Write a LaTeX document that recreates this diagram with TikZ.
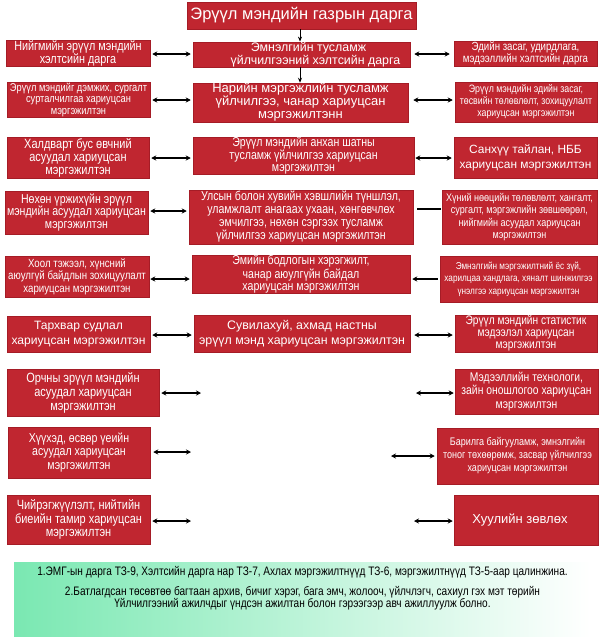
\documentclass[tikz,border=0pt]{standalone}
\usepackage{fontspec}
\setmainfont{Liberation Sans}
\newfontfamily\narrowf[FakeStretch=0.82]{Liberation Sans}
\usetikzlibrary{arrows.meta}
\definecolor{boxred}{RGB}{192,38,48}
\definecolor{boxedge}{RGB}{165,28,38}
\definecolor{mint}{RGB}{122,232,178}
\tikzset{
  rbox/.style={draw=boxedge, line width=0.5pt, fill=boxred, text=white, inner sep=0pt, align=center},
  dbl/.style={{Stealth[length=5pt,width=5pt]}-{Stealth[length=5pt,width=5pt]}, line width=1.1pt, black},
  sgl/.style={-{Stealth[length=5pt,width=5pt]}, line width=1.1pt, black},
  plain/.style={line width=1.1pt, black},
  down/.style={-{Stealth[length=5pt,width=4pt]}, line width=0.8pt, black},
}
% box by corners: x1 y1 x2 y2
\newcommand{\rb}[7]{%
  \node[rbox, minimum width={#4-#2}, minimum height={#5-#3}, font={#6}] (#1) at ({(#2+#4)/2},{(#3+#5)/2}) {#7};}
\newcommand{\fsr}[2]{\fontsize{#1}{#2}\selectfont}
\newcommand{\fsn}[2]{\narrowf\fontsize{#1}{#2}\selectfont}
\begin{document}
\begin{tikzpicture}[x=1pt,y=-1pt]
\useasboundingbox (0,0) rectangle (603,640);
\fill[white] (0,0) rectangle (603,640);
% top
\rb{T}{187}{2}{416}{29}{\fsr{16.5}{17}}{Эрүүл мэндийн газрын дарга}
% row 1
\rb{L1}{6}{41}{150}{66}{\fsn{13.2}{12.5}}{Нийгмийн эрүүл мэндийн\\хэлтсийн дарга}
\rb{C1}{193}{42}{410}{67}{\fsr{12.4}{13.5}}{\hspace*{14pt}Эмнэлгийн тусламж\\\hspace*{28pt}үйлчилгээний хэлтсийн дарга}
\rb{R1}{454}{41}{597}{66}{\fsn{11.8}{11.5}}{Эдийн засаг, удирдлага,\\мэдээллийн хэлтсийн дарга}
% row 2
\rb{L2}{7}{82}{150}{117}{\fsn{11.3}{11.5}}{Эрүүл мэндийг дэмжих, сургалт\\сурталчилгаа хариуцсан\\мэргэжилтэн}
\rb{C2}{193}{83}{408}{122}{\fsr{13}{13}}{Нарийн мэргэжлийн тусламж\\үйлчилгээ, чанар хариуцсан\\мэргэжилтэнн}
\rb{R2}{455}{82}{597}{122}{\fsn{10.7}{12}}{Эрүүл мэндийн эдийн засаг,\\төсвийн төлөвлөлт, зохицуулалт\\хариуцсан мэргэжилтэн}
% row 3
\rb{L3}{7}{137}{149}{178}{\fsn{13.4}{13}}{Халдварт бус өвчний\\асуудал хариуцсан\\мэргэжилтэн}
\rb{C3}{193}{137}{414}{174}{\fsn{12.9}{12}}{Эрүүл мэндийн анхан шатны\\тусламж үйлчилгээ хариуцсан\\мэргэжилтэн}
\rb{R3}{454}{137}{597}{178}{\fsr{11.9}{15}}{Санхүү тайлан, НББ\\хариуцсан мэргэжилтэн}
% row 4
\rb{L4}{5}{191}{148}{234}{\fsn{12.9}{12.5}}{Нөхөн үржихүйн эрүүл\\мэндийн асуудал хариуцсан\\мэргэжилтэн}
\rb{C4}{189}{190}{413}{244}{\fsn{12.9}{13}}{Улсын болон хувийн хэвшлийн түншлэл,\\уламжлалт анагаах ухаан, хөнгөвчлөх\\эмчилгээ, нөхөн сэргээх тусламж\\үйлчилгээ хариуцсан мэргэжилтэн}
\rb{R4}{442}{190}{597}{244}{\fsn{11}{12.5}}{Хүний нөөцийн төлөвлөлт, хангалт,\\сургалт, мэргэжлийн зөвшөөрөл,\\нийгмийн асуудал хариуцсан\\мэргэжилтэн}
% row 5
\rb{L5}{5}{256}{149}{297}{\fsn{11.8}{12.5}}{Хоол тэжээл, хүнсний\\аюулгүй байдлын зохицуулалт\\хариуцсан мэргэжилтэн}
\rb{C5}{192}{256}{410}{292}{\fsn{12.9}{12}}{Эмийн бодлогын хэрэгжилт,\\чанар аюулгүйн байдал\\хариуцсан мэргэжилтэн}
\rb{R5}{440}{256}{597}{302}{\fsn{10}{12.5}}{Эмнэлгийн мэргэжилтний ёс зүй,\\харилцаа хандлага, хяналт шинжилгээ\\үнэлгээ хариуцсан мэргэжилтэн}
% row 6
\rb{L6}{7}{316}{150}{352}{\fsr{12.1}{15}}{Тархвар судлал\\хариуцсан мэргэжилтэн}
\rb{C6}{194}{315}{410}{352}{\fsr{12.4}{15}}{Сувилахуй, ахмад настны\\эрүүл мэнд хариуцсан мэргэжилтэн}
\rb{R6}{455}{315}{597}{352}{\fsn{12.4}{12}}{Эрүүл мэндийн статистик\\мэдээлэл хариуцсан\\мэргэжилтэн}
% row 7
\rb{L7}{7}{369}{159}{416}{\fsn{13.4}{14}}{Орчны эрүүл мэндийн\\асуудал хариуцсан\\мэргэжилтэн}
\rb{R7}{455}{369}{598}{414}{\fsn{12.6}{13.5}}{Мэдээллийн технологи,\\зайн оношлогоо хариуцсан\\мэргэжилтэн}
% row 8
\rb{L8}{8}{427}{150}{478}{\fsn{12.9}{13.5}}{Хүүхэд, өсвөр үеийн\\асуудал хариуцсан\\мэргэжилтэн}
\rb{R8}{437}{428}{598}{484}{\fsn{11}{13}}{Барилга байгууламж, эмнэлгийн\\тоног төхөөрөмж, засвар үйлчилгээ\\хариуцсан мэргэжилтэн}
% row 9
\rb{L9}{7}{495}{150}{544}{\fsn{13.4}{13.5}}{Чийрэгжүүлэлт, нийтийн\\биеийн тамир хариуцсан\\мэргэжилтэн}
\rb{R9}{454}{495}{598}{545}{\fsr{13}{15}}{Хуулийн зөвлөх\hspace*{12pt}}
% free ends
\coordinate (a7l) at (201,393);
\coordinate (a7r) at (416,393);
\coordinate (a8l) at (191,452);
\coordinate (a8r) at (391,456);
\coordinate (a9l) at (191,521);
\coordinate (a9r) at (414,521);
% vertical arrows
\draw[down] (T.south -| 300,0) -- (C1.north -| 300,0);
\draw[down] (C1.south -| 300,0) -- (C2.north -| 300,0);
% row connectors
\draw[dbl, shorten <=2pt, shorten >=2pt] (L1.east |- 0,54) -- (C1.west |- 0,54);
\draw[dbl, shorten <=4pt, shorten >=4pt] (C1.east |- 0,54) -- (R1.west |- 0,54);
\draw[dbl, shorten <=2pt, shorten >=2pt] (L2.east |- 0,100) -- (C2.west |- 0,100);
\draw[dbl, shorten <=5pt, shorten >=2pt] (C2.east |- 0,100) -- (R2.west |- 0,100);
\draw[dbl, shorten <=2pt, shorten >=2pt] (L3.east |- 0,158) -- (C3.west |- 0,158);
\draw[dbl, shorten <=1pt, shorten >=2pt] (C3.east |- 0,158) -- (R3.west |- 0,158);
\draw[dbl, shorten <=2pt, shorten >=2pt] (L4.east |- 0,211) -- (C4.west |- 0,211);
\draw[plain, shorten <=4pt, shorten >=1pt] (C4.east |- 0,209) -- (R4.west |- 0,209);
\draw[dbl, shorten <=1pt, shorten >=2pt] (L5.east |- 0,279) -- (C5.west |- 0,279);
\draw[sgl, shorten <=2pt, shorten >=2pt] (R5.west |- 0,279) -- (C5.east |- 0,279);
\draw[dbl, shorten <=2pt, shorten >=2pt] (L6.east |- 0,335) -- (C6.west |- 0,335);
\draw[dbl, shorten <=4pt, shorten >=2pt] (C6.east |- 0,335) -- (R6.west |- 0,335);
\draw[dbl, shorten <=2pt] (L7.east |- a7l) -- (a7l);
\draw[dbl, shorten >=1pt] (a7r) -- (R7.west |- a7r);
\draw[dbl, shorten <=3pt] (L8.east |- a8l) -- (a8l);
\draw[dbl, shorten >=2pt] (a8r) -- (R8.west |- a8r);
\draw[dbl, shorten <=2pt] (L9.east |- a9l) -- (a9l);
\draw[dbl, shorten >=1pt] (a9r) -- (R9.west |- a9r);
% note
\node[minimum width=577pt, minimum height=74pt, inner sep=0pt, left color=mint, right color=white] (N) at (302.5,599) {};
\node[font={\fsn{12.3}{12}}, inner sep=0pt] (N1) at (N.center |- 0,572) {1.ЭМГ-ын дарга ТЗ-9, Хэлтсийн дарга нар ТЗ-7, Ахлах мэргэжилтнүүд ТЗ-6, мэргэжилтнүүд ТЗ-5-аар цалинжина.};
\node[font={\fsn{12.3}{12}}, inner sep=0pt, align=center] (N2) at (N.center |- 0,598) {2.Батлагдсан төсөвтөө багтаан архив, бичиг хэрэг, бага эмч, жолооч, үйлчлэгч, сахиул гэх мэт төрийн\\Үйлчилгээний ажилчдыг үндсэн ажилтан болон гэрээгээр авч ажиллуулж болно.};
\end{tikzpicture}
\end{document}
